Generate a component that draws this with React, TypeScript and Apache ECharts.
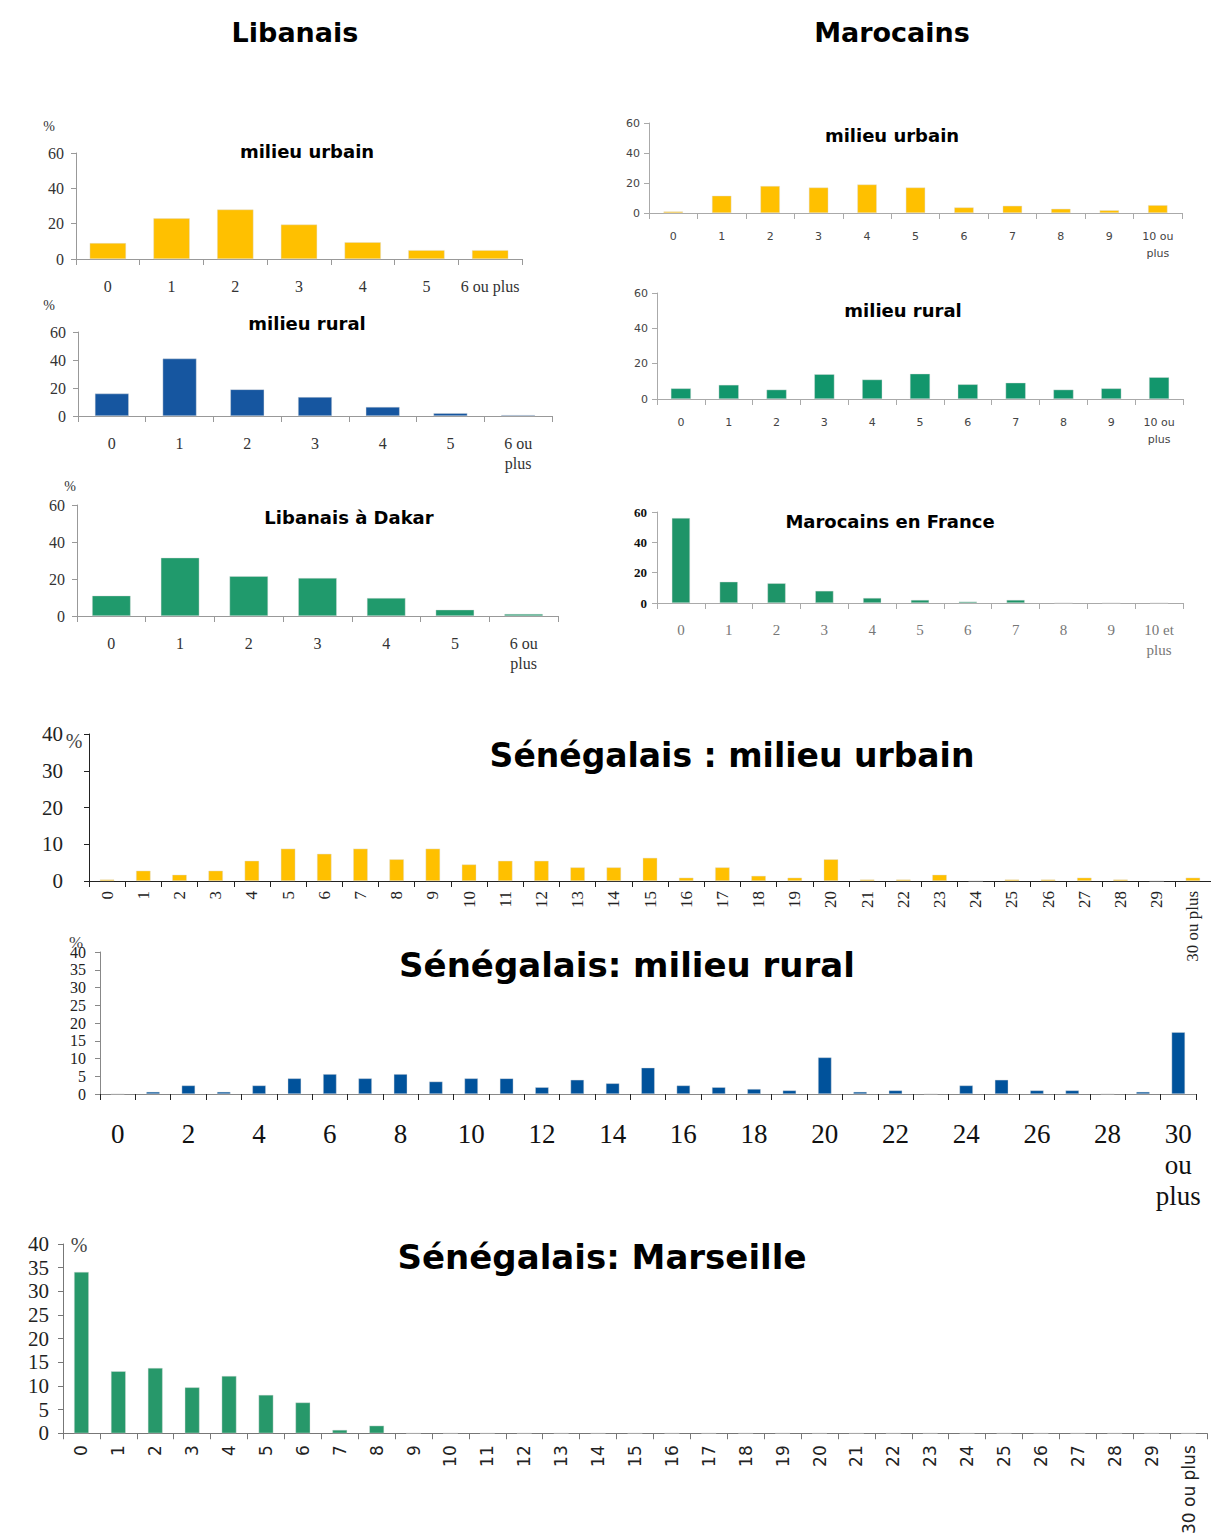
import React, { useEffect, useRef } from 'react';
import * as echarts from 'echarts';

// ---------- categories ----------
const libCatsUrbain = ['0', '1', '2', '3', '4', '5', '6 ou plus'];
const libCats = ['0', '1', '2', '3', '4', '5', '6 ou\nplus'];
const marCats = ['0', '1', '2', '3', '4', '5', '6', '7', '8', '9', '10 ou\nplus'];
const franceCats = ['0', '1', '2', '3', '4', '5', '6', '7', '8', '9', '10 et\nplus'];
const senCats = ['0', '1', '2', '3', '4', '5', '6', '7', '8', '9', '10', '11', '12', '13', '14', '15', '16', '17', '18', '19', '20', '21', '22', '23', '24', '25', '26', '27', '28', '29', '30 ou plus'];
const senRuralCats = ['0', '1', '2', '3', '4', '5', '6', '7', '8', '9', '10', '11', '12', '13', '14', '15', '16', '17', '18', '19', '20', '21', '22', '23', '24', '25', '26', '27', '28', '29', '30\nou\nplus'];

// ---------- values (%) ----------
const libUrbain = [9, 23, 28, 19.5, 9.5, 5, 5];
const libRural = [16, 41, 19, 13.5, 6.5, 2, 0.7];
const libDakar = [11, 31.5, 21.5, 20.5, 9.7, 3.4, 1.1];
const marUrbain = [1, 11.5, 18, 17, 19, 17, 3.7, 4.8, 2.8, 1.8, 5.2];
const marRural = [6, 8, 5.3, 14, 11, 14.3, 8.3, 9.2, 5.3, 6, 12.3];
const marFrance = [56, 14, 13, 8, 3.3, 2, 0.9, 2, 0, 0, 0];
const senUrbain = [0.4, 2.8, 1.7, 2.8, 5.5, 8.8, 7.4, 8.8, 5.9, 8.8, 4.5, 5.5, 5.5, 3.7, 3.7, 6.3, 0.9, 3.7, 1.4, 0.9, 5.9, 0.4, 0.4, 1.7, 0, 0.4, 0.4, 0.9, 0.4, 0, 0.9];
const senRural = [0, 0.6, 2.4, 0.6, 2.4, 4.4, 5.6, 4.4, 5.6, 3.5, 4.4, 4.4, 1.9, 4, 3, 7.4, 2.4, 1.9, 1.4, 1, 10.3, 0.6, 1, 0, 2.4, 4, 1, 1, 0, 0.6, 17.4];
const senMarseille = [34.1, 13.1, 13.8, 9.7, 12.1, 8.1, 6.5, 0.7, 1.6, 0, 0, 0, 0, 0, 0, 0, 0, 0, 0, 0, 0, 0, 0, 0, 0, 0, 0, 0, 0, 0, 0];

// ---------- titles ----------
const mainTitles = ['Libanais', 'Marocains'];
const panelTitles = ['milieu urbain', 'milieu rural', 'Libanais à Dakar', 'milieu urbain', 'milieu rural', 'Marocains en France'];
const senTitles = ['Sénégalais : milieu urbain', 'Sénégalais: milieu rural', 'Sénégalais: Marseille'];

const YELLOW = '#FFC000';
const BLUE_L = '#1656a0';
const BLUE_S = '#00529b';
const GREEN = '#209a6c';

const SERIF = '"Liberation Serif", "DejaVu Serif", serif';
const SANS = '"DejaVu Sans", "Liberation Sans", sans-serif';
const COMIC = '"Comic Sans MS", "DejaVu Sans", sans-serif';

type Panel = {
  grid: { left: number; top: number; width: number; height: number };
  cats: string[];
  values: number[];
  color: string;
  max: number;
  interval: number;
  gap: string;
  xLabel: any;
  yLabel: any;
  axisColor: string;
};

export default function App() {
  const ref = useRef<HTMLDivElement>(null);

  useEffect(() => {
    if (!ref.current) return;
    const chart = echarts.init(ref.current, undefined, { renderer: 'svg' });

    const libX = { fontFamily: SERIF, fontSize: 16, color: '#333', margin: 17, lineHeight: 20 };
    const libY = { fontFamily: SERIF, fontSize: 16, color: '#333', margin: 12 };
    const marX = { fontFamily: SANS, fontSize: 11, color: '#444', margin: 15, lineHeight: 17 };
    const marY = { fontFamily: SANS, fontSize: 11, color: '#444', margin: 9 };

    const panels: Panel[] = [
      { grid: { left: 76, top: 153, width: 446, height: 106 }, cats: libCatsUrbain, values: libUrbain, color: YELLOW, max: 60, interval: 20, gap: '43%', xLabel: libX, yLabel: libY, axisColor: '#999' },
      { grid: { left: 78, top: 332, width: 474, height: 84 }, cats: libCats, values: libRural, color: BLUE_L, max: 60, interval: 20, gap: '50%', xLabel: libX, yLabel: libY, axisColor: '#999' },
      { grid: { left: 77, top: 505, width: 481, height: 111 }, cats: libCats, values: libDakar, color: GREEN, max: 60, interval: 20, gap: '44%', xLabel: libX, yLabel: libY, axisColor: '#999' },
      { grid: { left: 649, top: 123, width: 533, height: 90 }, cats: marCats, values: marUrbain, color: YELLOW, max: 60, interval: 20, gap: '60%', xLabel: marX, yLabel: marY, axisColor: '#aaa' },
      { grid: { left: 657, top: 293, width: 526, height: 106 }, cats: marCats, values: marRural, color: '#12966c', max: 60, interval: 20, gap: '58%', xLabel: marX, yLabel: marY, axisColor: '#aaa' },
      { grid: { left: 657, top: 512, width: 526, height: 91 }, cats: franceCats, values: marFrance, color: '#1e9468', max: 60, interval: 20, gap: '62%', xLabel: { fontFamily: SERIF, fontSize: 15, color: '#777', margin: 17, lineHeight: 20 }, yLabel: { fontFamily: SERIF, fontSize: 13, fontWeight: 'bold', color: '#111', margin: 10 }, axisColor: '#aaa' },
      { grid: { left: 89, top: 734, width: 1133, height: 147 }, cats: senCats, values: senUrbain, color: YELLOW, max: 40, interval: 10, gap: '60%', xLabel: { fontFamily: SERIF, fontSize: 17, color: '#222', margin: 10, rotate: 90, interval: 0 }, yLabel: { fontFamily: SERIF, fontSize: 21, color: '#222', margin: 26 }, axisColor: '#222' },
      { grid: { left: 100, top: 952, width: 1096, height: 142 }, cats: senRuralCats, values: senRural, color: BLUE_S, max: 40, interval: 5, gap: '62%', xLabel: { fontFamily: SERIF, fontSize: 27, color: '#111', margin: 24, lineHeight: 31, interval: 1 }, yLabel: { fontFamily: SERIF, fontSize: 16, color: '#222', margin: 14, lineHeight: 16, showMinLabel: true, showMaxLabel: true }, axisColor: '#888' },
      { grid: { left: 63, top: 1244, width: 1144, height: 200 }, cats: senCats, values: senMarseille, color: '#27986a', max: 40, interval: 5, gap: '60%', xLabel: { fontFamily: SANS, fontSize: 17, color: '#222', margin: 12, rotate: 90, interval: 0 }, yLabel: { fontFamily: SERIF, fontSize: 21, color: '#222', margin: 14 }, axisColor: '#777' },
    ];

    const grid = panels.map((p) => ({ ...p.grid, containLabel: false }));
    const xAxis = panels.map((p, i) => ({
      type: 'category',
      gridIndex: i,
      data: p.cats,
      boundaryGap: true,
      axisLine: { show: true, lineStyle: { color: p.axisColor, width: 1 } },
      axisTick: { show: true, interval: 0, length: 6, lineStyle: { color: i === 7 ? '#222' : p.axisColor } },
      axisLabel: { interval: 0, ...p.xLabel },
      splitLine: { show: false },
    }));
    const yAxis = panels.map((p, i) => ({
      type: 'value',
      gridIndex: i,
      min: 0,
      max: p.max,
      interval: p.interval,
      axisLine: { show: true, lineStyle: { color: p.axisColor, width: 1 } },
      axisTick: { show: true, length: 5, lineStyle: { color: p.axisColor } },
      axisLabel: p.yLabel,
      splitLine: { show: false },
    }));
    const series = panels.map((p, i) => ({
      type: 'bar',
      xAxisIndex: i,
      yAxisIndex: i,
      data: p.values,
      barCategoryGap: p.gap,
      itemStyle: { color: p.color, borderColor: 'rgba(220,220,220,0.8)', borderWidth: 0.5 },
    }));

    const txt = (text: string, x: number, y: number, size: number, family = COMIC, weight: any = 'bold', color = '#000') => ({
      type: 'text',
      x,
      y,
      style: { text, fontSize: size, fontFamily: family, fontWeight: weight, fill: color, align: 'center', verticalAlign: 'middle' },
    });

    const graphic = [
      txt(mainTitles[0], 295, 32, 27),
      txt(mainTitles[1], 892, 32, 27),
      txt(panelTitles[0], 307, 151, 18),
      txt(panelTitles[1], 307, 323, 18),
      txt(panelTitles[2], 349, 517, 18),
      txt(panelTitles[3], 892, 135, 18),
      txt(panelTitles[4], 903, 310, 18),
      txt(panelTitles[5], 890, 521, 18),
      txt(senTitles[0], 732, 755, 33),
      txt(senTitles[1], 627, 965, 34),
      txt(senTitles[2], 602, 1257, 34),
      txt('%', 49, 126, 14, SERIF, 'normal', '#333'),
      txt('%', 49, 305, 14, SERIF, 'normal', '#333'),
      txt('%', 70, 486, 14, SERIF, 'normal', '#333'),
      txt('%', 74, 741, 20, SERIF, 'normal', '#444'),
      txt('%', 76, 942, 17, SERIF, 'normal', '#444'),
      txt('%', 79, 1245, 20, SERIF, 'normal', '#444'),
    ];

    chart.setOption({
      animation: false,
      backgroundColor: '#ffffff',
      grid,
      xAxis,
      yAxis,
      series,
      graphic,
    } as any);

    return () => chart.dispose();
  }, []);

  return <div ref={ref} style={{ position: 'absolute', left: 0, top: 0, width: 1211, height: 1537 }} />;
}
